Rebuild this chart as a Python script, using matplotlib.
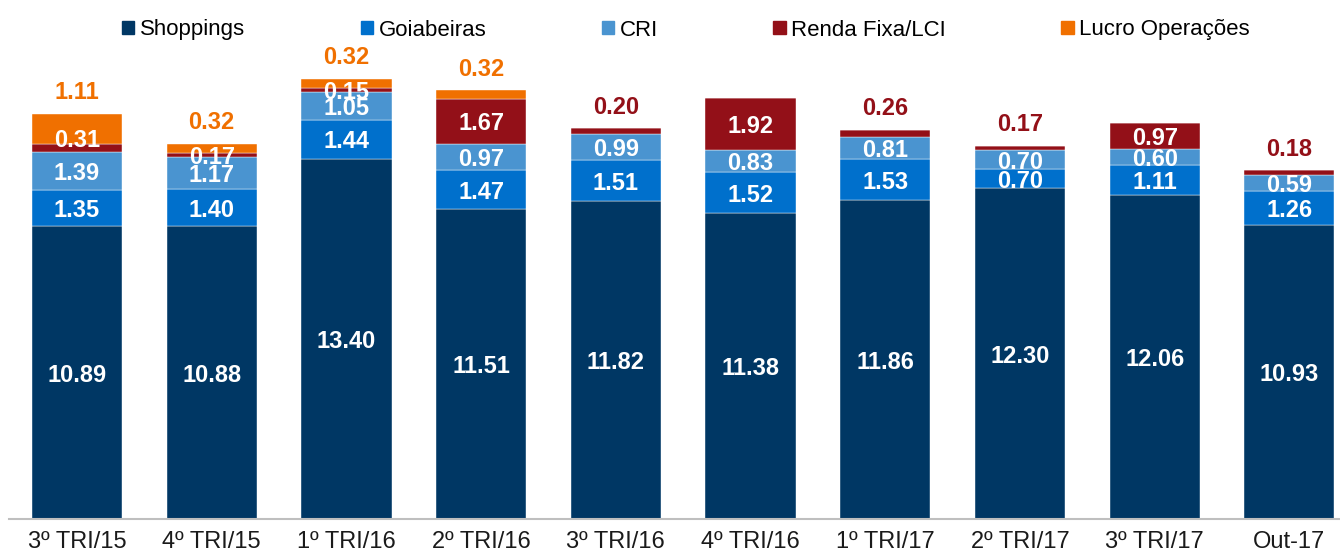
import matplotlib
matplotlib.use('Agg')
import matplotlib.pyplot as plt
from matplotlib.patches import Patch

periodos = ['3º TRI/15', '4º TRI/15', '1º TRI/16', '2º TRI/16', '3º TRI/16',
            '4º TRI/16', '1º TRI/17', '2º TRI/17', '3º TRI/17', 'Out-17']
shoppings = [10.89, 10.88, 13.40, 11.51, 11.82, 11.38, 11.86, 12.30, 12.06, 10.93]
goiabeiras = [1.35, 1.40, 1.44, 1.47, 1.51, 1.52, 1.53, 0.70, 1.11, 1.26]
cri = [1.39, 1.17, 1.05, 0.97, 0.99, 0.83, 0.81, 0.70, 0.60, 0.59]
renda_fixa = [0.31, 0.17, 0.15, 1.67, 0.20, 1.92, 0.26, 0.17, 0.97, 0.18]
lucro_op = [1.11, 0.32, 0.32, 0.32, 0, 0, 0, 0, 0, 0]

series = [shoppings, goiabeiras, cri, renda_fixa, lucro_op]
nomes = ['Shoppings', 'Goiabeiras', 'CRI', 'Renda Fixa/LCI', 'Lucro Operações']
cores = ['#003764', '#0070CC', '#4A94D0', '#931018', '#F07000']

fig = plt.figure(figsize=(13.4, 5.5), dpi=100)
ax = fig.add_axes([9/1340, 31/550, 1 - 9/1340, 464/550])

x = range(len(periodos))
base = [0.0] * len(periodos)
for s, vals in enumerate(series):
    ax.bar(x, vals, 0.67, bottom=base, color=cores[s], edgecolor='white', linewidth=0.3)
    for i, v in enumerate(vals):
        if v == 0:
            continue
        topo = all(series[k][i] == 0 for k in range(s + 1, len(series)))
        if topo and (v < 0.5 or s == 4):
            ax.annotate(f'{v:.2f}', (i, base[i] + v), xytext=(0, 7), textcoords='offset points',
                        ha='center', va='bottom', color=cores[s], fontsize=17,
                        fontweight='bold', family='Liberation Sans')
        else:
            y = base[i] + v / 2
            if i == 0 and s == 3:
                y += 0.4  # rótulo empurrado para cima, como no original
            ax.text(i, y - 0.1, f'{v:.2f}', ha='center', va='center', color='white',
                    fontsize=17, fontweight='bold', family='Liberation Sans')
    base = [b + v for b, v in zip(base, vals)]

ax.set_xlim(-0.505, 9.376)
ax.set_ylim(0, 17.25)
ax.set_yticks([])
ax.set_xticks(list(x))
ax.set_xticklabels(periodos, fontsize=17, family='Liberation Sans', color='#1a1a1a')
ax.tick_params(axis='x', length=0, pad=9)
for sp in ['top', 'left', 'right']:
    ax.spines[sp].set_visible(False)
ax.spines['bottom'].set_color('#BFBFBF')
ax.spines['bottom'].set_linewidth(1.5)

handles = [Patch(color=c, label=n) for c, n in zip(cores, nomes)]
fig.legend(handles=handles, loc='center', bbox_to_anchor=(686/1340, 1 - 30/550), ncol=5,
           frameon=False, handlelength=0.55, handleheight=0.55, handletextpad=0.25,
           columnspacing=5.2, prop={'family': 'Liberation Sans', 'size': 16})

fig.savefig('out.png', dpi=100)
